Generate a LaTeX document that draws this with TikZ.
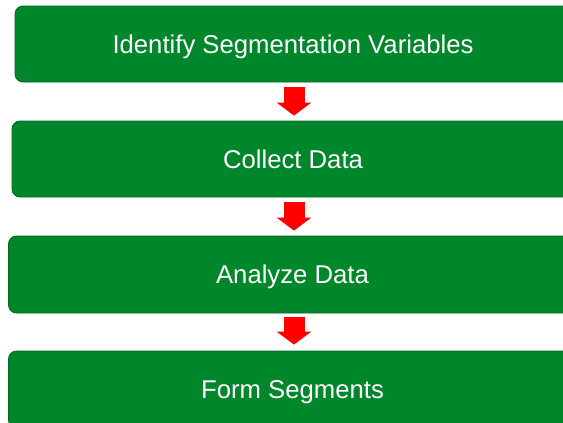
\documentclass[tikz,border=0pt]{standalone}
\usepackage{fontspec}
\setmainfont{Liberation Sans}
\usetikzlibrary{arrows.meta,calc}
\definecolor{boxgreen}{RGB}{0,134,43}
\definecolor{boxedge}{RGB}{0,105,30}
\definecolor{arrowred}{RGB}{255,0,0}
\begin{document}
\begin{tikzpicture}[x=1pt,y=-1pt,
  stagebox/.style={draw=boxedge, line width=0.8pt, fill=boxgreen, rounded corners=8pt,
    text=white, font=\fontsize{25.7}{30}\selectfont, inner sep=0pt, anchor=center,
    text height=18.5pt, text depth=0pt},
  downarrow/.style={draw=arrowred, line width=21pt,
    -{Triangle[width=34pt,length=13pt]}}]
\useasboundingbox (0,0) rectangle (563,423);
\node[stagebox, minimum width=556pt, minimum height=76pt] (b1) at (293,44) {Identify Segmentation Variables};
\node[stagebox, minimum width=562pt, minimum height=76pt] (b2) at (293,159) {Collect Data};
\node[stagebox, minimum width=568pt, minimum height=77pt] (b3) at (292.5,274.5) {Analyze Data};
\node[stagebox, minimum width=568pt, minimum height=77pt] (b4) at (292.5,389.5) {Form Segments};
\draw[downarrow] ($(b1.south)+(1,5)$) -- ($(b2.north)+(1,-5)$);
\draw[downarrow] ($(b2.south)+(1,5)$) -- ($(b3.north)+(1.5,-5)$);
\draw[downarrow] ($(b3.south)+(1.5,4)$) -- ($(b4.north)+(1.5,-6)$);
\end{tikzpicture}
\end{document}
